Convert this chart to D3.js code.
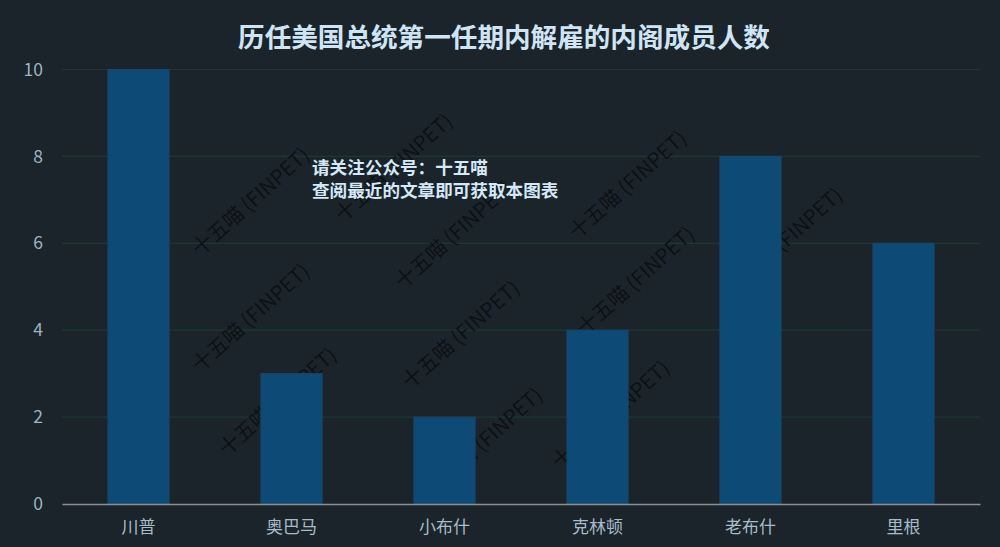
<!DOCTYPE html>
<html>
<head>
<meta charset="utf-8">
<script src="https://cdn.jsdelivr.net/npm/d3@7"></script>
<style>
  html, body { margin: 0; padding: 0; background: #1b242a; }
  svg { display: block; }
  text { font-family: "Noto Sans CJK SC", "Noto Sans", sans-serif; }
</style>
</head>
<body>
<svg id="chart" width="1000" height="547"></svg>
<script>
// ---- data ----
const categories = ["川普", "奥巴马", "小布什", "克林顿", "老布什", "里根"];
const values = [10, 3, 2, 4, 8, 6];
const yTicks = [0, 2, 4, 6, 8, 10];
const titleText = "历任美国总统第一任期内解雇的内阁成员人数";
const noteLines = ["请关注公众号：十五喵", "查阅最近的文章即可获取本图表"];
const watermarkText = "十五喵 (FINPET)";
// watermark anchor positions (decoration)
const watermarkPos = [
  [200, 257], [343, 223], [200, 373], [403, 290], [227, 457],
  [410, 390], [577, 240], [585, 336], [560, 470], [733, 297], [433, 497]
];

// ---- layout ----
const W = 1000, H = 547;
const margin = { left: 62, right: 20, top: 69.5, bottom: 43 };
const svg = d3.select("#chart");

svg.append("rect").attr("width", W).attr("height", H).attr("fill", "#1b242a");

const x = d3.scaleBand()
  .domain(categories)
  .range([margin.left, W - margin.right])
  .paddingInner(0.6)
  .paddingOuter(0.3);

const y = d3.scaleLinear()
  .domain([0, 10])
  .range([H - margin.bottom, margin.top]);

// grid lines
svg.append("g")
  .selectAll("line")
  .data(yTicks.filter(d => d !== 0))
  .join("line")
  .attr("x1", margin.left)
  .attr("x2", W - margin.right)
  .attr("y1", d => y(d))
  .attr("y2", d => y(d))
  .attr("stroke", "#1d3833")
  .attr("stroke-width", 1.2);

// watermark (below bars)
const wm = svg.append("g");
wm.selectAll("text")
  .data(watermarkPos)
  .join("text")
  .attr("transform", d => `translate(${d[0]},${d[1]}) rotate(-42)`)
  .attr("font-size", 20.5)
  .attr("fill", "#0b0e10")
  .attr("fill-opacity", 0.85)
  .text(watermarkText);

// bars
svg.append("g")
  .selectAll("rect")
  .data(values)
  .join("rect")
  .attr("x", (d, i) => x(categories[i]))
  .attr("width", x.bandwidth())
  .attr("y", d => y(d))
  .attr("height", d => y(0) - y(d))
  .attr("fill", "#0e4a76")
  .attr("stroke", "#18476a")
  .attr("stroke-width", 1);

// y axis (labels only)
const yAxis = d3.axisLeft(y).tickValues(yTicks).tickSize(0).tickPadding(0).tickFormat(d3.format("d"));
const yg = svg.append("g")
  .attr("transform", `translate(${margin.left - 19},0)`)
  .call(yAxis);
yg.select(".domain").remove();
yg.selectAll("text")
  .attr("font-size", 17.5)
  .attr("fill", "#9db4c4")
  .attr("font-family", "'Liberation Sans', 'Noto Sans', sans-serif");

// x axis
const xAxis = d3.axisBottom(x).tickSize(0).tickPadding(17);
const xg = svg.append("g")
  .attr("transform", `translate(0,${y(0)})`)
  .call(xAxis);
xg.select(".domain")
  .attr("stroke", "#8b9196")
  .attr("stroke-width", 1.6);
xg.selectAll("text")
  .attr("font-size", 17)
  .attr("fill", "#a6bccb");

// title
svg.append("text")
  .attr("x", 504)
  .attr("y", 35)
  .attr("text-anchor", "middle")
  .attr("dominant-baseline", "central")
  .attr("font-size", 26.6)
  .attr("font-weight", "bold")
  .attr("fill", "#cfe5f5")
  .text(titleText);

// note
svg.append("g")
  .selectAll("text")
  .data(noteLines)
  .join("text")
  .attr("x", 312)
  .attr("y", (d, i) => 166 + i * 23)
  .attr("dominant-baseline", "central")
  .attr("font-size", 17.6)
  .attr("font-weight", "bold")
  .attr("fill", "#d4e8f7")
  .text(d => d);
</script>
</body>
</html>
